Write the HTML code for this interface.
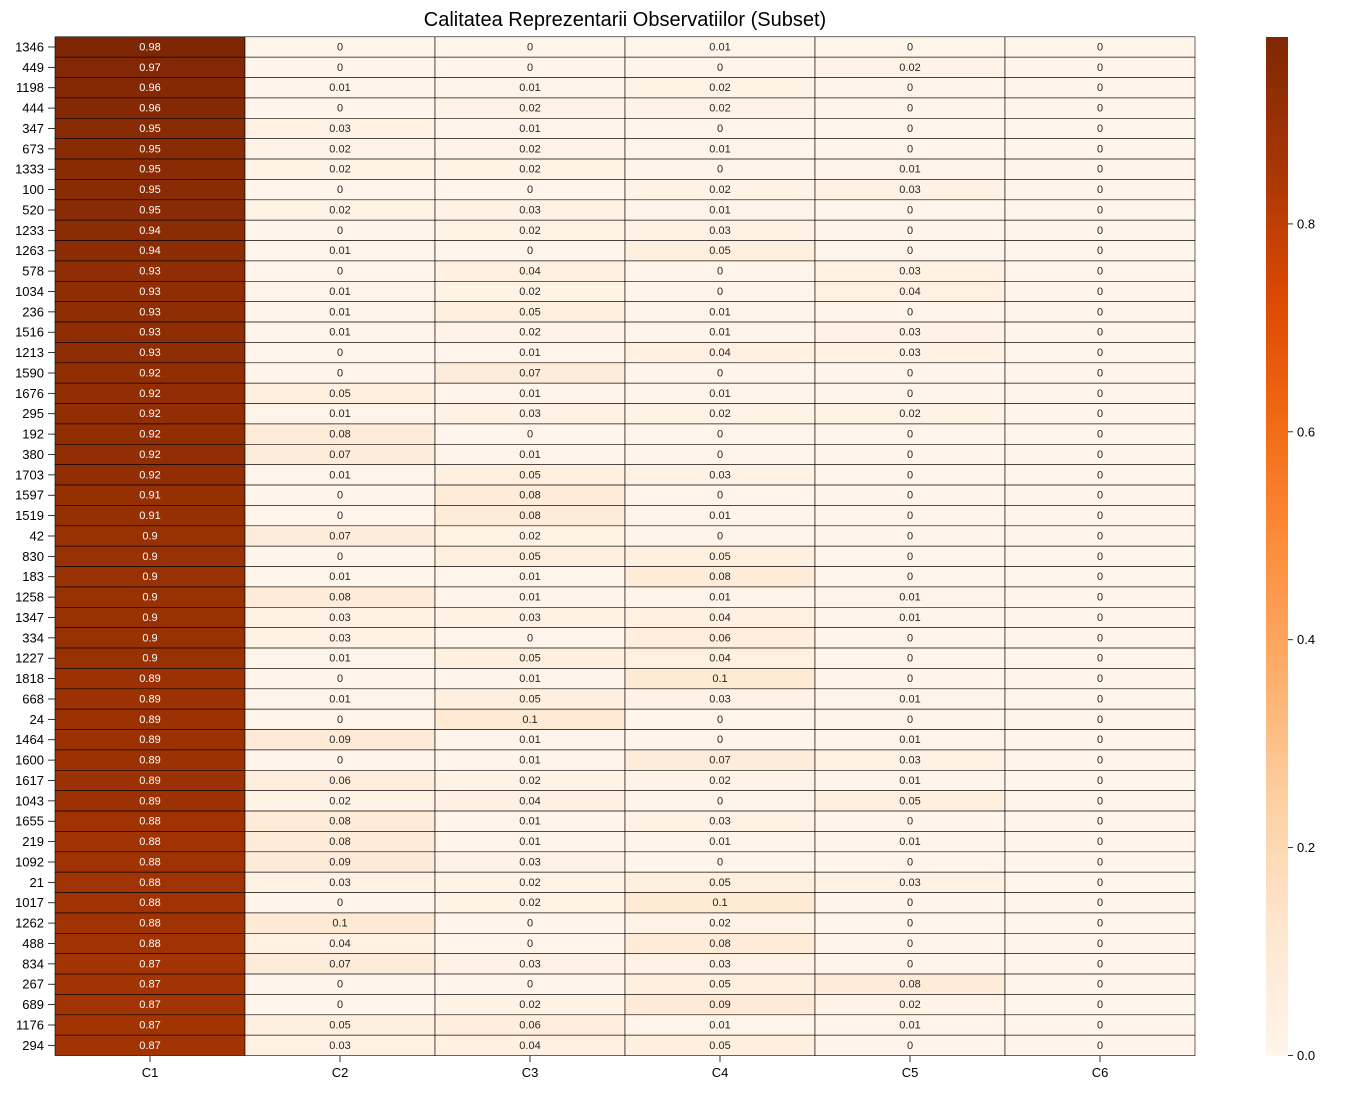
<!DOCTYPE html>
<html><head><meta charset="utf-8">
<style>
body{margin:0;background:#fff;font-family:"Liberation Sans",sans-serif;}
svg text{font-family:"Liberation Sans",sans-serif;}
</style></head>
<body>
<svg id="chart" width="1358" height="1089" xmlns="http://www.w3.org/2000/svg">
<defs>
<linearGradient id="cbgrad" x1="0" y1="1" x2="0" y2="0">
<stop offset="0" stop-color="#fff5eb"/><stop offset="0.125" stop-color="#fee6ce"/><stop offset="0.25" stop-color="#fdd0a2"/><stop offset="0.375" stop-color="#fdae6b"/><stop offset="0.5" stop-color="#fd8d3c"/><stop offset="0.625" stop-color="#f16913"/><stop offset="0.75" stop-color="#d94801"/><stop offset="0.875" stop-color="#a63603"/><stop offset="1" stop-color="#7f2704"/>
</linearGradient>
</defs>
<text x="625" y="26" font-size="20" text-anchor="middle">Calitatea Reprezentarii Observatiilor (Subset)</text>
<g id="cells"></g>
<g id="rowlabels"></g>
<g id="collabels"></g>
<rect x="1266" y="37" width="22" height="1018.6" fill="url(#cbgrad)"/>
<g id="cbticks"></g>
</svg>
<script>
const rowLabels=["1346","449","1198","444","347","673","1333","100","520","1233","1263","578","1034","236","1516","1213","1590","1676","295","192","380","1703","1597","1519","42","830","183","1258","1347","334","1227","1818","668","24","1464","1600","1617","1043","1655","219","1092","21","1017","1262","488","834","267","689","1176","294"];
const colLabels=["C1","C2","C3","C4","C5","C6"];
const c1=[0.98,0.97,0.96,0.96,0.95,0.95,0.95,0.95,0.95,0.94,0.94,0.93,0.93,0.93,0.93,0.93,0.92,0.92,0.92,0.92,0.92,0.92,0.91,0.91,0.9,0.9,0.9,0.9,0.9,0.9,0.9,0.89,0.89,0.89,0.89,0.89,0.89,0.89,0.88,0.88,0.88,0.88,0.88,0.88,0.88,0.87,0.87,0.87,0.87,0.87];
const c2=[0,0,0.01,0,0.03,0.02,0.02,0,0.02,0,0.01,0,0.01,0.01,0.01,0,0,0.05,0.01,0.08,0.07,0.01,0,0,0.07,0,0.01,0.08,0.03,0.03,0.01,0,0.01,0,0.09,0,0.06,0.02,0.08,0.08,0.09,0.03,0,0.1,0.04,0.07,0,0,0.05,0.03];
const c3=[0,0,0.01,0.02,0.01,0.02,0.02,0,0.03,0.02,0,0.04,0.02,0.05,0.02,0.01,0.07,0.01,0.03,0,0.01,0.05,0.08,0.08,0.02,0.05,0.01,0.01,0.03,0,0.05,0.01,0.05,0.1,0.01,0.01,0.02,0.04,0.01,0.01,0.03,0.02,0.02,0,0,0.03,0,0.02,0.06,0.04];
const c4=[0.01,0,0.02,0.02,0,0.01,0,0.02,0.01,0.03,0.05,0,0,0.01,0.01,0.04,0,0.01,0.02,0,0,0.03,0,0.01,0,0.05,0.08,0.01,0.04,0.06,0.04,0.1,0.03,0,0,0.07,0.02,0,0.03,0.01,0,0.05,0.1,0.02,0.08,0.03,0.05,0.09,0.01,0.05];
const c5=[0,0.02,0,0,0,0,0.01,0.03,0,0,0,0.03,0.04,0,0.03,0.03,0,0,0.02,0,0,0,0,0,0,0,0,0.01,0.01,0,0,0,0.01,0,0.01,0.03,0.01,0.05,0,0.01,0,0.03,0,0,0,0,0.08,0.02,0.01,0];
const c6=new Array(50).fill(0);
const cbTicks=[0,0.2,0.4,0.6,0.8];

const cols=[c1,c2,c3,c4,c5,c6];
const x0=55,cw=190,y0=36.8,rh=20.375,vmax=0.98;
const stops=["#fff5eb","#fee6ce","#fdd0a2","#fdae6b","#fd8d3c","#f16913","#d94801","#a63603","#7f2704"].map(h=>[parseInt(h.slice(1,3),16),parseInt(h.slice(3,5),16),parseInt(h.slice(5,7),16)]);
function cmap(v){let t=Math.max(0,Math.min(1,v/vmax))*8;let i=Math.min(7,Math.floor(t)),f=t-i;const a=stops[i],b=stops[i+1];return`rgb(${a.map((c,k)=>Math.round(c+(b[k]-c)*f)).join(",")})`;}
function xs(j){return x0+j*cw;}
function ys(i){return y0+i*rh;}
const NS="http://www.w3.org/2000/svg";
const cells=document.getElementById("cells"),rl=document.getElementById("rowlabels"),cl=document.getElementById("collabels"),cb=document.getElementById("cbticks");
function mk(tag,attrs,parent){const e=document.createElementNS(NS,tag);for(const k in attrs)e.setAttribute(k,attrs[k]);parent.appendChild(e);return e;}
cols.forEach((col,j)=>{
 col.forEach((v,i)=>{
  const r=mk("rect",{x:xs(j),y:ys(i),width:cw,height:rh,fill:cmap(v),stroke:"#000","stroke-width":0.6},cells);
  
  
  const t=mk("text",{x:xs(j)+cw/2,y:ys(i)+rh/2+3.5,"font-size":11,"text-anchor":"middle",fill:v/vmax>0.5?"#fff":"#262626"},cells);
  t.textContent=String(v);
  
  
 });
});
rowLabels.forEach((l,i)=>{
 const t=mk("text",{x:44,y:ys(i)+rh/2+4.5,"font-size":13,"text-anchor":"end"},rl);
 t.textContent=l;
 
 
 mk("line",{x1:48,x2:55,y1:ys(i)+rh/2,y2:ys(i)+rh/2,stroke:"#000","stroke-width":0.8},rl);
});
colLabels.forEach((l,j)=>{
 const t=mk("text",{x:xs(j)+cw/2,y:1077,"font-size":13,"text-anchor":"middle"},cl);
 t.textContent=l;
 
 
 mk("line",{x1:xs(j)+cw/2,x2:xs(j)+cw/2,y1:1056,y2:1062,stroke:"#000","stroke-width":0.8},cl);
});
cbTicks.forEach(v=>{
 const y=y0+50*rh-v/vmax*50*rh;
 mk("line",{x1:1288,x2:1293,y1:y,y2:y,stroke:"#000","stroke-width":0.8},cb);
 const t=mk("text",{x:1297,y:y+4.5,"font-size":13},cb);
 t.textContent=v.toFixed(1);
 
 
});
</script>
</body></html>
